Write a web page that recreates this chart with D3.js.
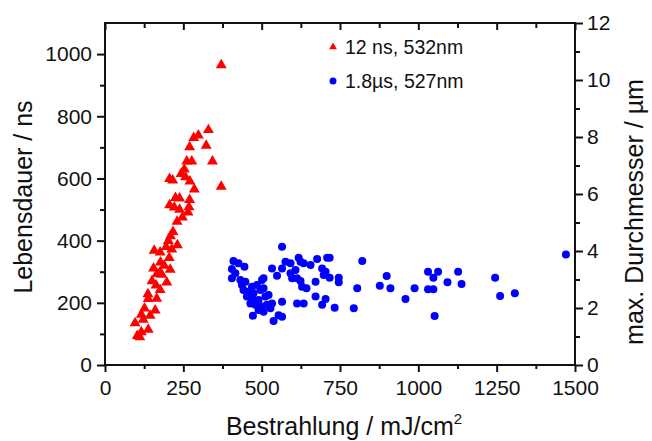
<!DOCTYPE html>
<html>
<head>
<meta charset="utf-8">
<script src="https://cdn.jsdelivr.net/npm/d3@7"></script>
<style>
  body { margin: 0; background: #fff; }
  text { font-family: "Liberation Sans", Arial, sans-serif; fill: #111; }
</style>
</head>
<body>
<svg id="chart" width="652" height="441"></svg>
<script>
// Axis ticks
const xMajorTicks = [0, 250, 500, 750, 1000, 1250, 1500];
const xMinorTicks = [125, 375, 625, 875, 1125, 1375];
const lifetimeTicks = [0, 200, 400, 600, 800, 1000];
const lifetimeMinor = [100, 300, 500, 700, 900];
const diameterTicks = [0, 2, 4, 6, 8, 10, 12];
const diameterMinor = [1, 3, 5, 7, 9, 11];

// 12 ns, 532 nm: irradiance (mJ/cm²) vs. lifetime (ns)
const nsIrradiance = [371, 330, 298, 283, 323, 270, 343, 261, 277, 253, 243, 257, 206, 216, 271, 285, 371,
  225, 238, 206, 270, 221, 238, 268, 265, 247, 230, 217, 209, 202, 231, 195, 213, 157, 176, 205, 177,
  155, 208, 176, 166, 181, 197, 163, 176, 137, 138, 165, 126, 160, 116, 144, 122, 96, 138, 116, 103, 111,
  189, 150];
const nsLifetime = [965, 756, 739, 731, 706, 701, 655, 655, 655, 629, 615, 604, 599, 594, 591, 565, 574,
  538, 536, 514, 531, 507, 500, 508, 491, 475, 461, 428, 415, 399, 386, 380, 372, 368, 362, 345, 330,
  311, 307, 299, 293, 291, 266, 256, 242, 228, 213, 214, 182, 176, 162, 159, 146, 135, 114, 106, 94, 90,
  320, 270];

// 1.8 µs, 527 nm: irradiance (mJ/cm²) vs. max. diameter (µm)
const usIrradiance = [565, 410, 426, 445, 405, 416, 405, 432, 448, 437, 469, 485, 501, 506, 442, 458, 474,
  496, 506, 453, 469, 490, 512, 522, 464, 480, 501, 517, 533, 490, 506, 528, 472, 554, 565, 538, 533,
  549, 565, 576, 592, 618, 624, 608, 592, 597, 613, 624, 629, 643, 634, 656, 672, 677, 693, 704, 709,
  672, 613, 634, 693, 565, 717, 821, 698, 717, 746, 746, 805, 899, 877, 911, 988, 959, 1031, 1063, 1048,
  1093, 1031, 1048, 704, 733, 794, 1052, 1127, 1138, 1245, 1261, 1308, 1471];
const usDiameter = [4.15, 3.65, 3.57, 3.45, 3.37, 3.22, 3.04, 2.98, 2.92, 2.81, 2.75, 2.81, 2.98, 3.04, 2.63,
  2.57, 2.52, 2.63, 2.69, 2.40, 2.34, 2.28, 2.40, 2.46, 2.16, 2.11, 2.05, 2.11, 2.16, 1.93, 1.87, 1.99,
  1.73, 1.75, 1.69, 1.54, 3.39, 3.13, 3.39, 3.62, 3.57, 3.76, 3.62, 3.33, 3.22, 3.04, 3.04, 2.95, 2.75,
  2.69, 3.57, 3.51, 2.92, 3.72, 3.39, 3.27, 3.76, 2.40, 2.16, 2.16, 2.11, 2.22, 3.76, 3.65, 3.16, 3.06,
  3.06, 2.90, 2.69, 3.12, 2.78, 2.69, 2.69, 2.32, 3.27, 3.27, 3.06, 2.90, 2.66, 2.66, 2.32, 2.01, 1.99,
  1.72, 3.27, 2.84, 3.06, 2.42, 2.52, 3.88];

const seriesLabels = ["12 ns, 532nm", "1.8\u00b5s, 527nm"];

const svg = d3.select("#chart");
const plot = { left: 105, right: 575, top: 23, bottom: 365 };

const x = d3.scaleLinear().domain([0, 1500]).range([plot.left, plot.right]);
const yLeft = d3.scaleLinear().domain([0, 1100]).range([plot.bottom, plot.top]);
const yRight = d3.scaleLinear().domain([0, 12]).range([plot.bottom, plot.top]);

const tickFont = 21, titleFont = 25;

function styleAxis(g) {
  g.select(".domain").remove();
  g.selectAll(".tick line").attr("stroke", "#111").attr("stroke-width", 2);
  g.selectAll(".tick text").attr("font-size", tickFont).attr("fill", "#111")
    .attr("font-family", "'Liberation Sans', Arial, sans-serif");
}

// bottom axis
svg.append("g").attr("transform", `translate(0,${plot.bottom})`)
  .call(d3.axisBottom(x).tickValues(xMajorTicks).tickSize(7).tickPadding(8).tickFormat(d3.format("d")))
  .call(styleAxis);
svg.append("g").attr("transform", `translate(0,${plot.bottom})`)
  .call(d3.axisBottom(x).tickValues(xMinorTicks).tickSize(4).tickFormat(""))
  .call(styleAxis);
// top axis, ticks pointing inward
svg.append("g").attr("transform", `translate(0,${plot.top})`)
  .call(d3.axisBottom(x).tickValues(xMajorTicks).tickSize(7).tickFormat(""))
  .call(styleAxis);
svg.append("g").attr("transform", `translate(0,${plot.top})`)
  .call(d3.axisBottom(x).tickValues(xMinorTicks).tickSize(5).tickFormat(""))
  .call(styleAxis);
// left axis
svg.append("g").attr("transform", `translate(${plot.left},0)`)
  .call(d3.axisLeft(yLeft).tickValues(lifetimeTicks).tickSize(8).tickPadding(5).tickFormat(d3.format("d")))
  .call(styleAxis);
svg.append("g").attr("transform", `translate(${plot.left},0)`)
  .call(d3.axisLeft(yLeft).tickValues(lifetimeMinor).tickSize(5).tickFormat(""))
  .call(styleAxis);
// right axis
svg.append("g").attr("transform", `translate(${plot.right},0)`)
  .call(d3.axisRight(yRight).tickValues(diameterTicks).tickSize(8).tickPadding(4).tickFormat(d3.format("d")))
  .call(styleAxis);
svg.append("g").attr("transform", `translate(${plot.right},0)`)
  .call(d3.axisRight(yRight).tickValues(diameterMinor).tickSize(5).tickFormat(""))
  .call(styleAxis);

// frame
svg.append("rect")
  .attr("x", plot.left).attr("y", plot.top)
  .attr("width", plot.right - plot.left).attr("height", plot.bottom - plot.top)
  .attr("fill", "none").attr("stroke", "#111").attr("stroke-width", 2);

// axis titles
svg.append("text")
  .attr("transform", "translate(32,197) rotate(-90)")
  .attr("text-anchor", "middle").attr("font-size", titleFont)
  .text("Lebensdauer / ns");
svg.append("text")
  .attr("transform", "translate(643,212) rotate(-90)")
  .attr("text-anchor", "middle").attr("font-size", titleFont)
  .text("max. Durchmesser / \u00b5m");
const xt = svg.append("text")
  .attr("x", 344).attr("y", 435)
  .attr("text-anchor", "middle").attr("font-size", titleFont);
xt.append("tspan").text("Bestrahlung / mJ/cm");
xt.append("tspan").attr("font-size", 15).attr("dy", -11).text("2");

// markers
const tri = d3.symbol().type(d3.symbolTriangle).size(52);
svg.append("g").selectAll("path")
  .data(d3.range(nsIrradiance.length))
  .join("path")
  .attr("d", tri)
  .attr("transform", i => `translate(${x(nsIrradiance[i])},${yLeft(nsLifetime[i])})`)
  .attr("fill", "#ff0000");

svg.append("g").selectAll("circle")
  .data(d3.range(usIrradiance.length))
  .join("circle")
  .attr("cx", i => x(usIrradiance[i]))
  .attr("cy", i => yRight(usDiameter[i]))
  .attr("r", 4)
  .attr("fill", "#0000ff");

// legend
const legend = svg.append("g").attr("transform", "translate(333,0)");
legend.append("path").attr("d", d3.symbol().type(d3.symbolTriangle).size(26))
  .attr("transform", "translate(0,47)").attr("fill", "#ff0000");
legend.append("circle").attr("cx", 0).attr("cy", 81).attr("r", 3.5).attr("fill", "#0000ff");
legend.append("text").attr("x", 12).attr("y", 54).attr("font-size", 19.5).text(seriesLabels[0]);
legend.append("text").attr("x", 12).attr("y", 88).attr("font-size", 19.5).text(seriesLabels[1]);
</script>
</body>
</html>
